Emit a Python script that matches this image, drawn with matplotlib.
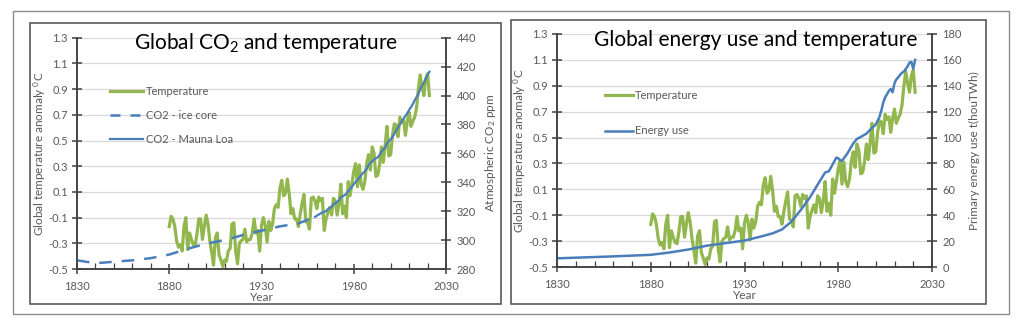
import numpy as np
import matplotlib
matplotlib.use("Agg")
import matplotlib.pyplot as plt
from matplotlib.lines import Line2D
from matplotlib.patches import Rectangle
from matplotlib.ticker import FixedLocator, MultipleLocator, FormatStrFormatter

plt.rcParams['font.family'] = ['Lato', 'DejaVu Sans']
plt.rcParams['mathtext.default'] = 'regular'

# Global temperature anomaly (degC), annual, 1880-2021
temp_years = list(range(1880, 2022))
temp_anom = [
    -0.17, -0.09, -0.11, -0.17, -0.28, -0.33, -0.31, -0.36, -0.17, -0.10,
    -0.35, -0.22, -0.27, -0.31, -0.32, -0.23, -0.11, -0.11, -0.27, -0.17,
    -0.08, -0.15, -0.28, -0.37, -0.47, -0.26, -0.22, -0.39, -0.43, -0.48,
    -0.43, -0.44, -0.36, -0.34, -0.15, -0.14, -0.36, -0.46, -0.30, -0.28,
    -0.27, -0.19, -0.29, -0.27, -0.27, -0.22, -0.11, -0.22, -0.20, -0.36,
    -0.16, -0.10, -0.16, -0.29, -0.13, -0.20, -0.15, -0.03, 0.00, -0.02,
    0.13, 0.19, 0.07, 0.09, 0.20, 0.09, -0.07, -0.03, -0.11, -0.11,
    -0.17, -0.07, 0.01, 0.08, -0.13, -0.14, -0.19, 0.05, 0.06, 0.03,
    -0.03, 0.06, 0.03, 0.05, -0.20, -0.11, -0.06, -0.02, -0.08, 0.05,
    0.03, -0.08, 0.01, 0.16, -0.07, -0.01, -0.10, 0.18, 0.07, 0.16,
    0.26, 0.32, 0.14, 0.31, 0.16, 0.12, 0.18, 0.32, 0.39, 0.27,
    0.45, 0.40, 0.22, 0.23, 0.31, 0.45, 0.33, 0.46, 0.61, 0.38,
    0.39, 0.54, 0.63, 0.62, 0.53, 0.68, 0.64, 0.66, 0.54, 0.65,
    0.72, 0.61, 0.65, 0.68, 0.75, 0.90, 1.01, 0.92, 0.85, 0.98,
    1.02, 0.85,
]

# CO2 from ice cores (ppm)
ice_years = [1830, 1840, 1850, 1860, 1870, 1880, 1890, 1900, 1910, 1920,
             1930, 1940, 1950, 1958]
ice_co2 = [286.0, 284.0, 285.0, 286.0, 287.5, 290.0, 294.0, 297.5, 300.0,
           303.5, 306.5, 309.5, 311.5, 315.5]

# CO2 at Mauna Loa (ppm), 1959-2021
ml_years = list(range(1959, 2022))
ml_co2 = [
    315.98, 316.91, 317.64, 318.45, 318.99, 319.62, 320.04, 321.37, 322.18, 323.05,
    324.62, 325.68, 326.32, 327.46, 329.68, 330.19, 331.13, 332.03, 333.84, 335.41,
    336.84, 338.76, 340.12, 341.48, 343.15, 344.87, 346.35, 347.61, 349.31, 351.69,
    353.20, 354.45, 355.70, 356.54, 357.21, 358.96, 360.97, 362.74, 363.88, 366.84,
    368.54, 369.71, 371.32, 373.45, 375.98, 377.70, 379.98, 382.09, 384.02, 385.83,
    387.64, 390.10, 391.85, 394.06, 396.74, 398.81, 401.01, 404.41, 406.76, 408.72,
    411.66, 414.24, 416.45,
]

# Primary energy use (thousand TWh)
energy_years = [1830, 1840, 1850, 1860, 1870, 1880, 1890, 1900, 1910, 1920,
                1930, 1940, 1945, 1950, 1955, 1960, 1965, 1970, 1973, 1975,
                1979, 1980, 1981, 1982, 1985, 1988, 1990, 1992, 1995, 1997,
                2000, 2002, 2003, 2004, 2005, 2007, 2008, 2009, 2010, 2011,
                2012, 2013, 2014, 2015, 2016, 2017, 2018, 2019, 2020, 2021]
energy_use = [6.7, 7.2, 7.7, 8.2, 8.8, 9.4, 11.2, 13.5, 16.5, 18.5,
              20.4, 24.0, 26.0, 29.0, 35.0, 44.0, 54.0, 66.0, 73.0, 74.0,
              84.5, 84.0, 82.5, 82.0, 88.0, 95.5, 99.0, 100.5, 103.0, 106.0,
              110.0, 116.0, 121.0, 127.0, 131.0, 136.0, 137.5, 135.0, 142.0, 145.0,
              146.5, 148.5, 150.0, 151.0, 153.0, 155.0, 158.0, 158.5, 153.0, 160.0]

year_ticks = [1830, 1880, 1930, 1980, 2030]
temp_ticks = [-0.5, -0.3, -0.1, 0.1, 0.3, 0.5, 0.7, 0.9, 1.1, 1.3]

GREEN = '#92B74F'
BLUE = '#4A7EBB'
TXT = '#595959'
AXC = '#404040'
GRID = '#D9D9D9'

W, H = 1024, 329
fig = plt.figure(figsize=(W / 100, H / 100), dpi=100)


def px_axes(x0, y0, x1, y1):
    return fig.add_axes([x0 / W, 1 - y1 / H, (x1 - x0) / W, (y1 - y0) / H])


def px_rect(x0, y0, x1, y1, color, lw):
    fig.patches.append(Rectangle((x0 / W, 1 - y1 / H), (x1 - x0) / W, (y1 - y0) / H,
                                 transform=fig.transFigure, fill=False,
                                 edgecolor=color, linewidth=lw))


# frames around the panels
px_rect(13, 11, 1009, 314, '#8C8C8C', 1.0)
px_rect(30, 23, 501, 304, '#595959', 1.2)
px_rect(511, 20, 986, 304, '#595959', 1.2)


def style_axes(ax, axr, rlim, rstep):
    ax.set_xlim(1830, 2030)
    ax.set_ylim(-0.5, 1.3)
    ax.yaxis.set_major_locator(FixedLocator(temp_ticks))
    ax.yaxis.set_major_formatter(FormatStrFormatter('%.1f'))
    ax.xaxis.set_major_locator(FixedLocator(year_ticks))
    ax.xaxis.set_minor_locator(FixedLocator(range(1830, 2031, 10)))
    ax.grid(axis='y', color=GRID, linewidth=0.9)
    ax.set_axisbelow(True)
    for a in (ax, axr):
        a.spines['top'].set_visible(False)
        for s in ('left', 'right', 'bottom'):
            a.spines[s].set_color(AXC)
            a.spines[s].set_linewidth(1.1)
    ax.tick_params(axis='both', which='major', direction='inout', length=7,
                   width=1.1, color=AXC, labelcolor=TXT, labelsize=8, pad=3)
    ax.tick_params(axis='x', which='minor', direction='in', length=4,
                   width=0.9, color=AXC)
    ax.tick_params(axis='x', pad=5)
    axr.set_ylim(*rlim)
    axr.yaxis.set_major_locator(MultipleLocator(rstep))
    axr.tick_params(axis='y', direction='inout', length=7, width=1.1, color=AXC,
                    labelcolor=TXT, labelsize=8, pad=4)
    ax.set_xlabel('Year', color=TXT, fontsize=8.5, labelpad=0)


# Left panel: CO2 and temperature
ax1 = px_axes(77, 37.7, 446, 269)
ax1r = ax1.twinx()
ax1.plot(temp_years, temp_anom, color=GREEN, linewidth=2.3, solid_joinstyle='round')
ax1r.plot(ice_years, ice_co2, color=BLUE, linewidth=1.8, dashes=(5, 4))
ax1r.plot(ml_years, ml_co2, color=BLUE, linewidth=1.6)
style_axes(ax1, ax1r, (280, 440), 20)
ax1.set_ylabel('Global temperature anomaly $^0$C', color=TXT, fontsize=8.5, labelpad=0)
ax1r.set_ylabel('Atmospheric CO$_2$ ppm', color=TXT, fontsize=8.5, labelpad=5)
fig.text(266 / W, 1 - 43 / H, 'Global CO$_2$ and temperature', fontsize=15,
         ha='center', va='center', color='black')
h1 = [Line2D([], [], color=GREEN, linewidth=2.3),
      Line2D([], [], color=BLUE, linewidth=1.8, dashes=(4, 4)),
      Line2D([], [], color=BLUE, linewidth=1.6)]
ax1r.legend(h1, ['Temperature', 'CO2 - ice core', 'CO2 - Mauna Loa'],
            loc='upper left', bbox_to_anchor=(110 / W, 1 - 86 / H),
            bbox_transform=fig.transFigure, frameon=False, fontsize=8,
            handlelength=3.0, handletextpad=0.2, labelspacing=1.15,
            labelcolor=TXT, borderaxespad=0, borderpad=0)

# Right panel: energy use and temperature
ax2 = px_axes(557, 34, 932, 267)
ax2r = ax2.twinx()
ax2.plot(temp_years, temp_anom, color=GREEN, linewidth=2.3, solid_joinstyle='round')
ax2r.plot(energy_years, energy_use, color=BLUE, linewidth=1.8)
style_axes(ax2, ax2r, (0, 180), 20)
ax2.set_ylabel('Global temperature anomaly $^0$C', color=TXT, fontsize=8.5, labelpad=0)
ax2r.set_ylabel('Primary energy use t(houTWh)', color=TXT, fontsize=8.5, labelpad=5)
fig.text(756 / W, 1 - 40 / H, 'Global energy use and temperature', fontsize=15,
         ha='center', va='center', color='black')
h2 = [Line2D([], [], color=GREEN, linewidth=2.3),
      Line2D([], [], color=BLUE, linewidth=1.8)]
ax2r.legend(h2, ['Temperature', 'Energy use'],
            loc='upper left', bbox_to_anchor=(605 / W, 1 - 90 / H),
            bbox_transform=fig.transFigure, frameon=False, fontsize=8,
            handlelength=2.5, handletextpad=0.2, labelspacing=2.2,
            labelcolor=TXT, borderaxespad=0, borderpad=0)

fig.savefig('out.png', dpi=100)
